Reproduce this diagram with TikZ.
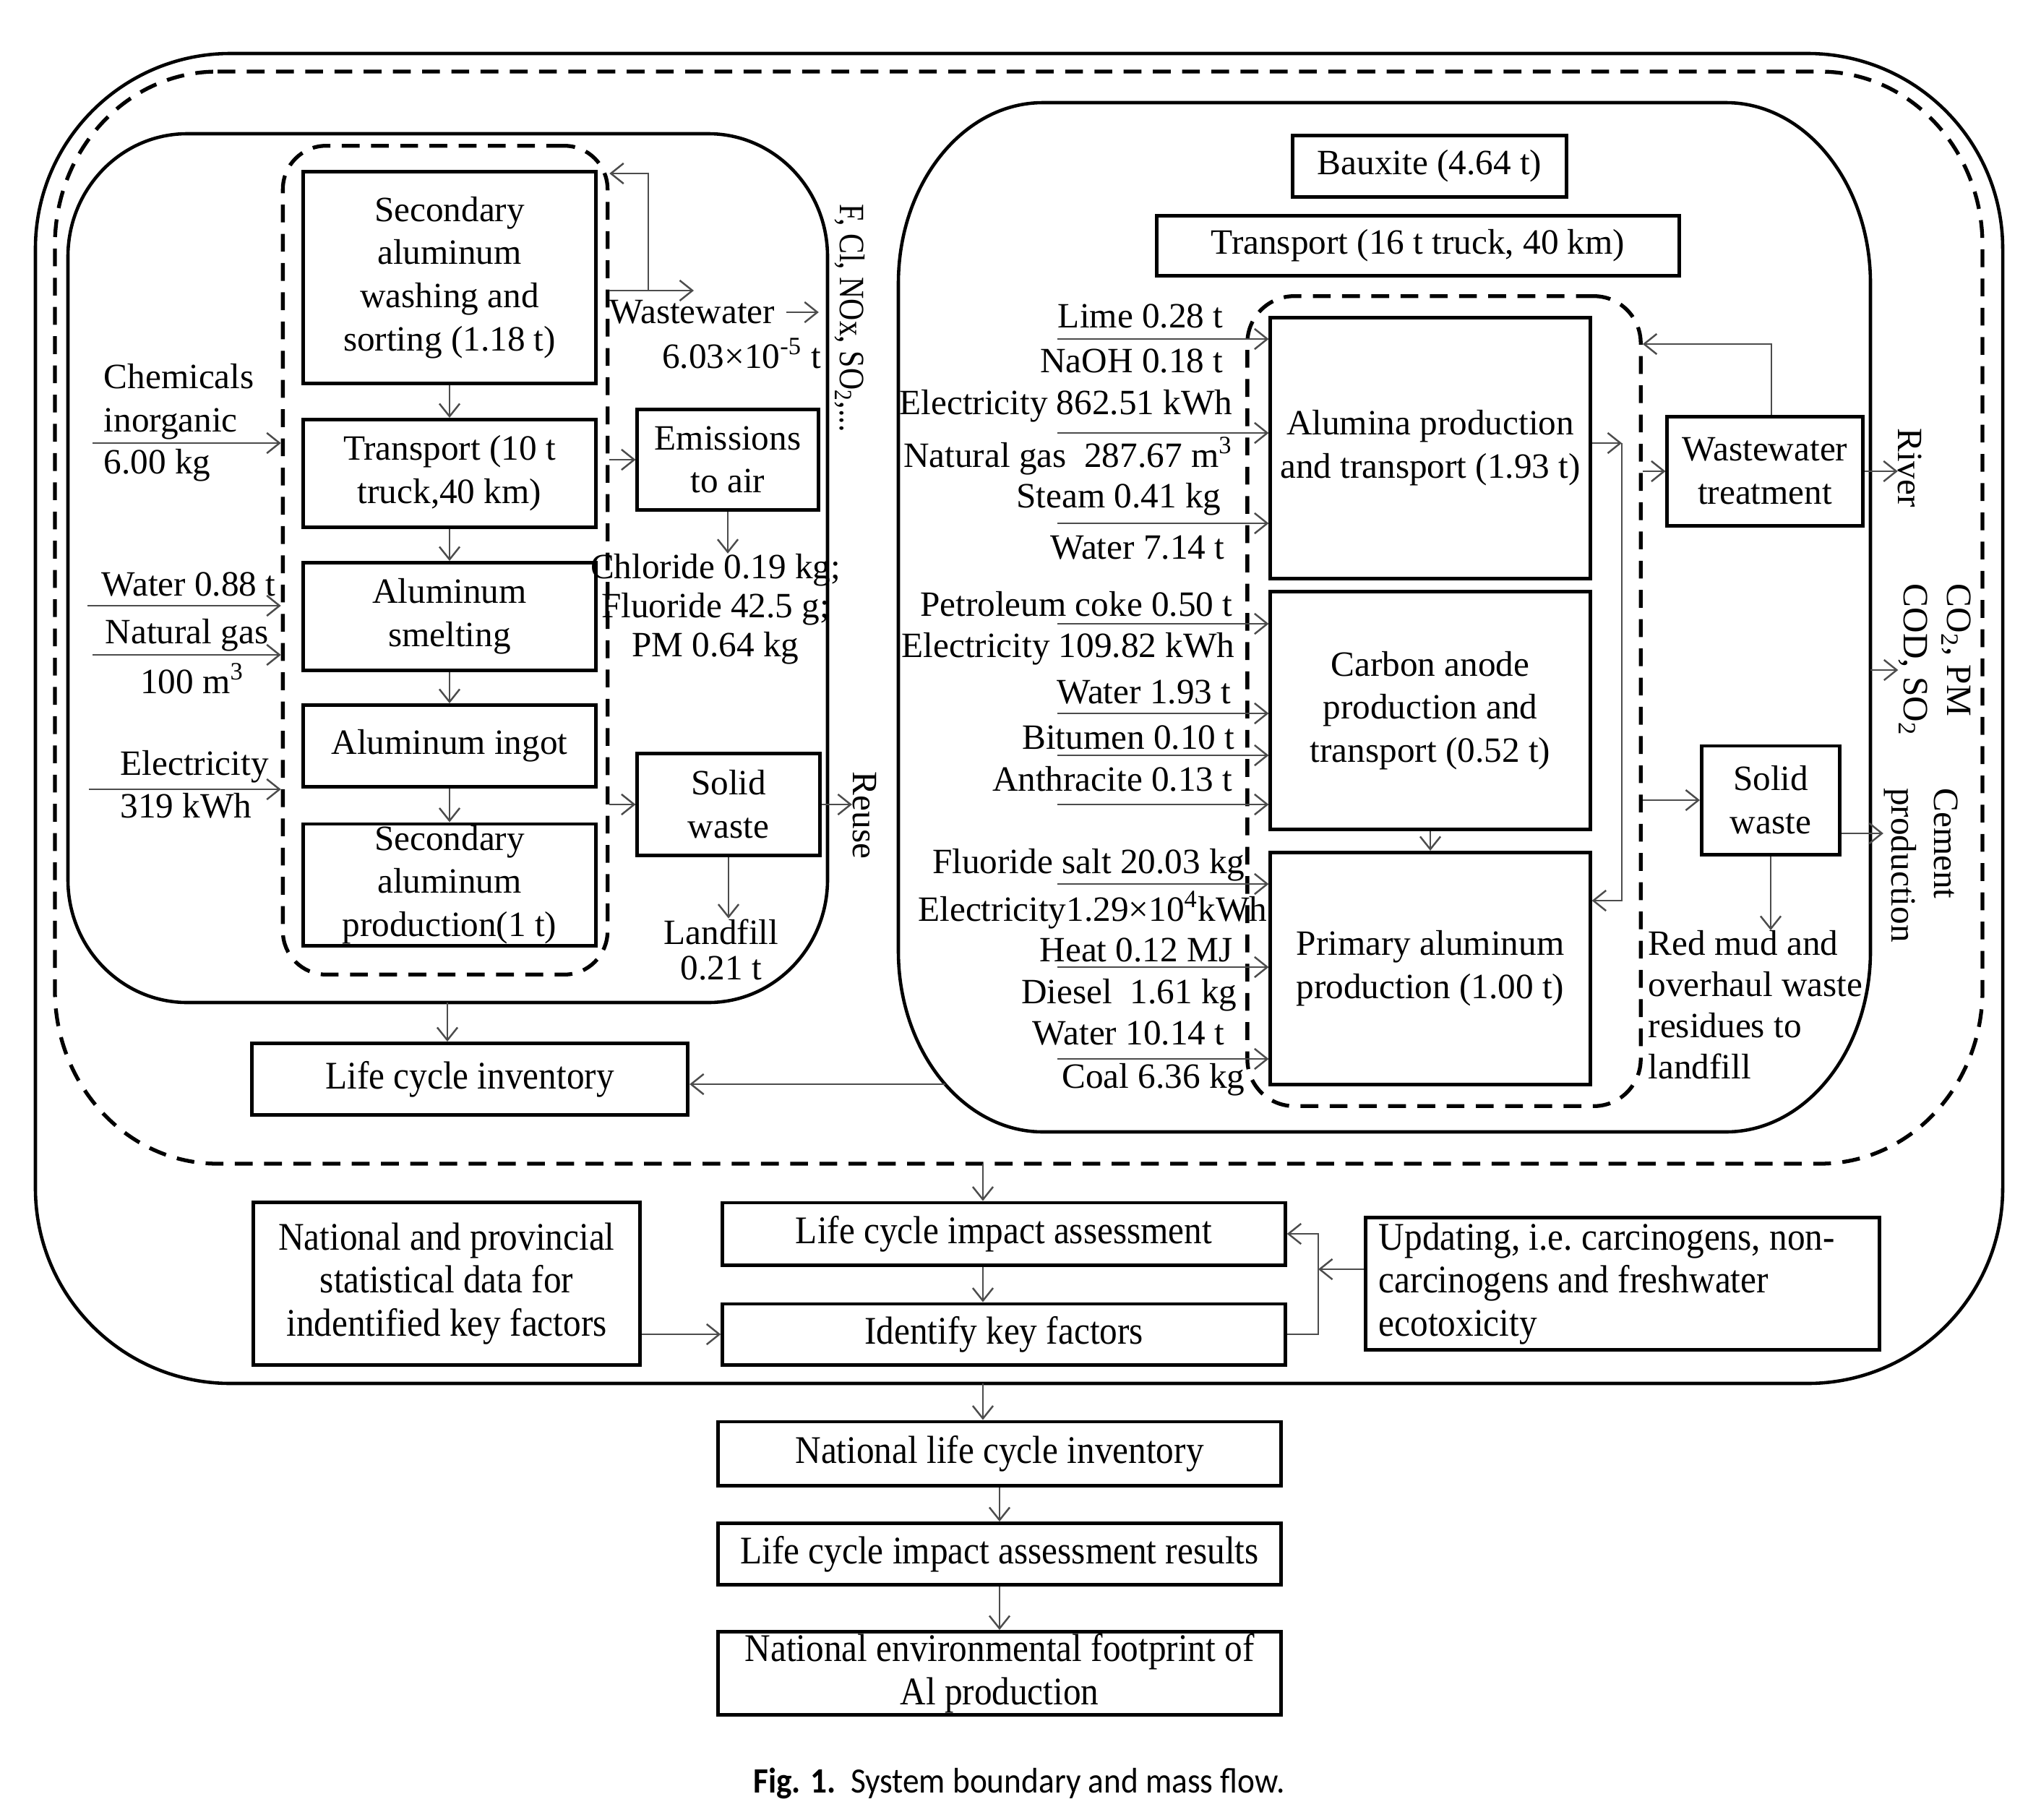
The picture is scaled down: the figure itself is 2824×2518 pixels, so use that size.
\documentclass[tikz,border=0pt]{standalone}
\usepackage{fontspec}
\setmainfont{Liberation Serif}
\newfontfamily\condfont[FakeStretch=0.91]{Liberation Serif}
\newfontfamily\narrowfont[FakeStretch=0.85]{Liberation Serif}
\newfontfamily\capfont[FakeStretch=0.92]{Carlito}
\usetikzlibrary{arrows.meta}

% frame with oval corners: [style]{x1}{y1}{x2}{y2}{rx}{ry}
\newcommand{\sysframe}[7][]{%
  \draw[#1] (#2+#6,#3) -- (#4-#6,#3)
    .. controls (#4-0.448*#6,#3) and (#4,#3+0.448*#7) .. (#4,#3+#7)
    -- (#4,#5-#7)
    .. controls (#4,#5-0.448*#7) and (#4-0.448*#6,#5) .. (#4-#6,#5)
    -- (#2+#6,#5)
    .. controls (#2+0.448*#6,#5) and (#2,#5-0.448*#7) .. (#2,#5-#7)
    -- (#2,#3+#7)
    .. controls (#2,#3+0.448*#7) and (#2+0.448*#6,#3) .. (#2+#6,#3) -- cycle;}

\tikzset{
  box/.style={draw, line width=1.4pt, align=center, inner sep=0.5pt},
  flow/.style={->, draw=black!70, line width=0.7pt},
  lbl/.style={inner sep=0pt, align=center},
  solidline/.style={line width=1.3pt},
  dashline/.style={line width=1.5pt, dash pattern=on 7pt off 4.5pt},
  turned/.style={lbl, rotate=-90, align=left},
  lowtext/.style={font=\condfont\fontsize{15.4}{17}\selectfont},
}

\begin{document}
\begin{tikzpicture}[x=0.01cm, y=-0.01cm, font=\fontsize{14}{17}\selectfont,
  >={Straight Barb[length=5pt,width=8pt]}]
\useasboundingbox (0,0) rectangle (2824,2518);

% Boundaries
\sysframe[solidline]{49}{74}{2771}{1914}{270}{270}
\sysframe[dashline]{76}{99}{2743}{1610}{225}{240}
\sysframe[solidline]{94}{185}{1145}{1387}{165}{170}
\sysframe[solidline]{1243}{142}{2588}{1566}{200}{250}
\node[dashline, draw, rounded corners=0.6cm, minimum width=4.49cm, minimum height=11.46cm] (ldash) at (616,775) {};
\node[dashline, draw, rounded corners=0.65cm, minimum width=5.44cm, minimum height=11.20cm] (rdash) at (1998,970) {};

% Secondary aluminum
\node[box, minimum width=4.05cm, minimum height=2.93cm] (wash) at (622,384) {Secondary\\aluminum\\washing and\\sorting (1.18 t)};
\node[box, minimum width=4.05cm, minimum height=1.49cm] (truck10) at (622,655) {Transport (10 t\\truck,40 km)};
\node[box, minimum width=4.05cm, minimum height=1.49cm] (smelt) at (622,853) {Aluminum\\smelting};
\node[box, minimum width=4.05cm, minimum height=1.13cm] (ingot) at (622,1032) {Aluminum ingot};
\node[box, minimum width=4.05cm, minimum height=1.68cm] (secprod) at (622,1224) {Secondary\\aluminum\\production(1 t)};
\node[box, minimum width=2.50cm, minimum height=1.39cm] (emis) at (1007,636) {Emissions\\to air};
\node[box, minimum width=2.52cm, minimum height=1.41cm] (swL) at (1008,1113) {Solid\\waste};

\draw[flow] (wash) -- (truck10);
\draw[flow] (truck10) -- (smelt);
\draw[flow] (smelt) -- (ingot);
\draw[flow] (ingot) -- (secprod);

% Inputs (left)
\node[lbl, anchor=west, align=left] (chem) at (143,556) {Chemicals\\inorganic};
\node[lbl, anchor=west] (chemq) at (143,644) {6.00 kg};
\node[lbl, anchor=west] (water) at (140,808) {Water 0.88 t};
\node[lbl, anchor=west] (gas) at (145,879) {Natural gas};
\node[lbl] (gasq) at (266,939) {100 m\textsuperscript{3}};
\node[lbl, anchor=west] (elec) at (166,1061) {Electricity};
\node[lbl, anchor=west] (elecq) at (166,1115) {319 kWh};
\coordinate (chemIn) at (128,613);
\coordinate (waterIn) at (121,838);
\coordinate (gasIn) at (128,906);
\coordinate (elecIn) at (123,1092);
\foreach \p in {chemIn,waterIn,gasIn,elecIn}
  \draw[flow] (\p) -- (\p -| ldash.west);

% Outputs (left)
\coordinate (wwOut) at (960,402);
\coordinate (wwJoin) at (897,402);
\coordinate (wwBack) at (897,240);
\draw[flow] (ldash.east |- wwOut) -- (wwOut);
\draw[flow] (wwJoin) -- (wwBack) -- (wwBack -| ldash.east);
\node[lbl, anchor=west] (wwtxt) at (843,432) {Wastewater};
\draw[flow] ([xshift=0.15cm]wwtxt.east) -- ++(45,0);
\node[lbl] (wwq) at (1026,489) {6.03×10\textsuperscript{-5} t};
\node[turned, font=\narrowfont\fontsize{14}{17}\selectfont] (airlist) at (1176,440) {F, Cl, NOx, SO\textsubscript{2},...};
\draw[flow] (ldash.east |- emis) -- (emis);
\node[lbl, font=\fontsize{14}{15.4}\selectfont] (emlist) at (990,843) {Chloride 0.19 kg;\\Fluoride 42.5 g;\\PM 0.64 kg};
\draw[flow] (emis) -- (emis |- emlist.north);
\draw[flow] (ldash.east |- swL) -- (swL);
\node[turned] (reuse) at (1196,1128) {Reuse};
\draw[flow] (swL) -- (swL -| reuse.south);
\node[lbl, font=\fontsize{14}{14.2}\selectfont] (lfill) at (998,1314) {Landfill\\0.21 t};
\draw[flow] (swL) -- (swL |- lfill.north);

% Life cycle inventory
\node[box, lowtext, minimum width=6.03cm, minimum height=0.99cm] (lci) at (650,1493) {Life cycle inventory};
\coordinate (leftOut) at (619,1387);
\coordinate (rightOut) at (1308,1500);
\draw[flow] (leftOut) -- (leftOut |- lci.north);
\draw[flow] (rightOut) -- (rightOut -| lci.east);

% Primary aluminum
\node[box, minimum width=3.78cm, minimum height=0.85cm] (bauxite) at (1978,230) {Bauxite (4.64 t)};
\node[box, minimum width=7.22cm, minimum height=0.83cm] (truck16) at (1962,340) {Transport (16 t truck, 40 km)};
\node[box, minimum width=4.42cm, minimum height=3.61cm] (alumina) at (1979,620) {Alumina production\\and transport (1.93 t)};
\node[box, minimum width=4.42cm, minimum height=3.28cm] (anode) at (1979,983) {Carbon anode\\production and\\transport (0.52 t)};
\node[box, minimum width=4.42cm, minimum height=3.21cm] (primary) at (1979,1340) {Primary aluminum\\production (1.00 t)};
\node[box, minimum width=2.70cm, minimum height=1.51cm] (wwt) at (2442,652) {Wastewater\\treatment};
\node[box, minimum width=1.91cm, minimum height=1.50cm] (swR) at (2450,1107) {Solid\\waste};

% Inputs (right)
\foreach \t/\x/\y [count=\i] in {Lime 0.28 t/1693/437, NaOH 0.18 t/1693/499,
    Electricity 862.51 kWh/1706/562, Natural gas\ \ 287.67 m\textsuperscript{3}/1706/631,
    Steam 0.41 kg/1690/691, Water 7.14 t/1695/758, Petroleum coke 0.50 t/1706/836,
    Electricity 109.82 kWh/1709/898, Water 1.93 t/1704/958, Bitumen 0.10 t/1709/1020,
    Anthracite 0.13 t/1706/1078, Fluoride salt 20.03 kg/1723/1197,
    Electricity1.29×10\textsuperscript{4}kWh/1754/1259, Heat 0.12 MJ/1706/1314,
    Diesel\ \ 1.61 kg/1712/1377, Water 10.14 t/1695/1429, Coal 6.36 kg/1723/1494}
  \node[lbl, anchor=east] (input\i) at (\x,\y) {\t};
\foreach \y [count=\i] in {469,599,724,863,987,1045,1113,1223,1338,1465} {
  \coordinate (feed\i) at (1463,\y);
  \draw[flow] (feed\i) -- (feed\i -| alumina.west);
}

% Flows (right)
\coordinate (alOut) at (2244,613);
\draw[flow] (alOut -| alumina.east) -- (alOut);
\draw[flow] (alOut) |- (primary.east |- 0,1246);
\draw[flow] (anode) -- (primary);
\draw[flow] (rdash.east |- wwt) -- (wwt);
\draw[flow] (rdash.east |- swR) -- (swR);
\coordinate (wwBackR) at (2451,476);
\draw[flow] (wwt.north -| wwBackR) -- (wwBackR) -- (wwBackR -| rdash.east);
\node[turned] (river) at (2643,647) {River};
\draw[flow] (wwt) -- (wwt -| river.south);
\node[turned] (gases) at (2677,913) {CO\textsubscript{2}, PM\\COD, SO\textsubscript{2}};
\coordinate (rightEdge) at (2588,927);
\draw[flow] (rightEdge) -- (rightEdge -| gases.south);
\node[turned] (cement) at (2658,1197) {Cement\\production};
\coordinate (cemIn) at (2614,1153);
\draw[flow] (swR.east |- cemIn) -- (cemIn -| cement.south);
\node[lbl, anchor=north west, align=left, font=\fontsize{14}{16.2}\selectfont] (redmud) at (2280,1287) {Red mud and\\overhaul waste\\residues to\\landfill};
\draw[flow] (swR) -- (swR |- redmud.north);

% Assessment
\coordinate (dashOut) at (1360,1610);
\coordinate (frameOut) at (1360,1914);
\node[box, lowtext, minimum width=7.78cm, minimum height=0.86cm] (lcia) at (1389,1707) {Life cycle impact assessment};
\node[box, lowtext, minimum width=7.78cm, minimum height=0.84cm] (keyf) at (1389,1846) {Identify key factors};
\node[box, lowtext, minimum width=5.34cm, minimum height=2.24cm] (stats) at (618,1776) {National and provincial\\statistical data for\\indentified key factors};
\node[box, lowtext, align=flush left, text width=6.74cm, inner xsep=0.18cm, minimum height=1.83cm] (update) at (2245,1776) {Updating, i.e.\ carcinogens, non-\\carcinogens and freshwater\\ecotoxicity};
\node[box, lowtext, minimum width=7.79cm, minimum height=0.88cm] (nlci) at (1383,2011) {National life cycle inventory};
\node[box, lowtext, minimum width=7.79cm, minimum height=0.85cm] (lciar) at (1383,2150) {Life cycle impact assessment results};
\node[box, lowtext, minimum width=7.79cm, minimum height=1.15cm] (footprint) at (1383,2315) {National environmental footprint of\\Al production};

\draw[flow] (dashOut) -- (dashOut |- lcia.north);
\draw[flow] (lcia.south -| dashOut) -- (keyf.north -| dashOut);
\draw[flow] (stats.east |- keyf) -- (keyf);
\coordinate (updJoin) at (1824,1756);
\draw[flow] (update.west |- updJoin) -- (updJoin);
\draw[flow] (keyf.east) -| (updJoin |- lcia) -- (lcia.east);
\draw[flow] (frameOut) -- (frameOut |- nlci.north);
\draw[flow] (nlci) -- (lciar);
\draw[flow] (lciar) -- (footprint);

% Caption
\node[font=\capfont\fontsize{14}{16}\selectfont] (caption) at (1410,2467) {\textbf{Fig. 1.}\ \ System boundary and mass flow.};
\end{tikzpicture}
\end{document}
